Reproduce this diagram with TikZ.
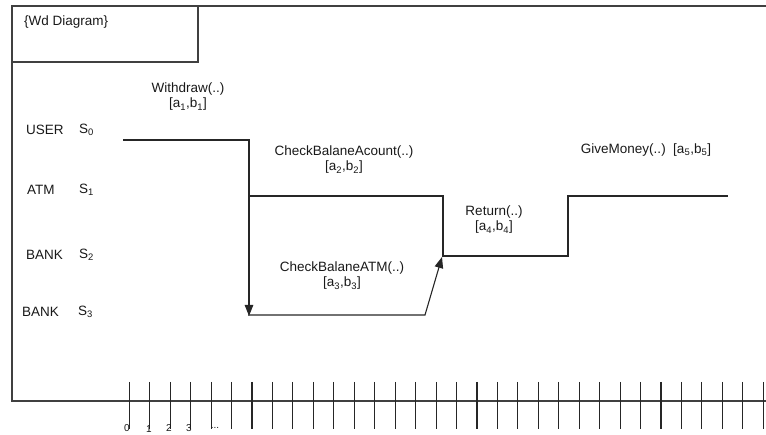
\documentclass[tikz,border=0pt]{standalone}
\usepackage{fontspec}
\setmainfont{Liberation Sans}
\usetikzlibrary{arrows.meta}
\tikzset{
  frame/.style={line width=1.3pt, draw=black!75},
  wire/.style={line width=1.1pt, draw=black!85},
  arr/.style={wire, -{Triangle[length=11pt,width=8.5pt]}},
  lbl/.style={inner sep=0pt, font=\fontsize{13.5}{15}\selectfont, align=center, text=black!90},
  tlbl/.style={inner sep=0pt, font=\fontsize{10}{11}\selectfont, text=black!90},
  tick/.style={line width=1.1pt, draw=black!85}
}
\begin{document}
\begin{tikzpicture}[x=1pt,y=-1pt]
\useasboundingbox (0,0) rectangle (766,435);
% frame
\draw[frame] (766,6) -- (12,6) -- (12,401) -- (766,401);
\draw[frame] (12,62) -- (198,62) -- (198,6);
\node[lbl, anchor=west] (title) at (24,22) {\{Wd Diagram\}};
% state labels
\node[lbl, anchor=west] (user) at (26,130) {USER};
\node[lbl, anchor=west] (s0) at (79,130) {S\textsubscript{0}};
\node[lbl, anchor=west] (atm) at (27,190) {ATM};
\node[lbl, anchor=west] (s1) at (79,190) {S\textsubscript{1}};
\node[lbl, anchor=west] (bank2) at (26,255) {BANK};
\node[lbl, anchor=west] (s2) at (79,255) {S\textsubscript{2}};
\node[lbl, anchor=west] (bank3) at (22,312) {BANK};
\node[lbl, anchor=west] (s3) at (78,312) {S\textsubscript{3}};
% message labels
\node[lbl] (m1) at (188,97) {Withdraw(..)\\ {[a\textsubscript{1},b\textsubscript{1}]}};
\node[lbl] (m2) at (344,160) {CheckBalaneAcount(..)\\ {[a\textsubscript{2},b\textsubscript{2}]}};
\node[lbl] (m3) at (342,276) {CheckBalaneATM(..)\\ {[a\textsubscript{3},b\textsubscript{3}]}};
\node[lbl] (m4) at (494,220) {Return(..)\\ {[a\textsubscript{4},b\textsubscript{4}]}};
\node[lbl] (m5) at (646,150) {GiveMoney(..)\ \ [a\textsubscript{5},b\textsubscript{5}]};
% path coordinates
\coordinate (u0) at (123,140);
\coordinate (u1) at (249,140);
\coordinate (u2) at (249,316);
\coordinate (a0) at (249,196);
\coordinate (a1) at (443,196);
\coordinate (a2) at (443,256);
\coordinate (a3) at (568,256);
\coordinate (a4) at (568,196);
\coordinate (a5) at (728,196);
\coordinate (b0) at (248,315);
\coordinate (b1) at (425,315);
\coordinate (b2) at (442,257);
% wires
\draw[arr] (u0) -- (u1) -- (u2);
\draw[wire] (a0) -- (a1) -- (a2) -- (a3) -- (a4) -- (a5);
\draw[arr] (b0) -- (b1) -- (b2);
% time axis ticks
\foreach \i in {0,...,31} {
  \draw[tick] ({129.3+20.45*\i},382) -- ({129.3+20.45*\i},429);
}
\node[tlbl] (t0) at (127,428) {0};
\node[tlbl] (t1) at (149,429) {1};
\node[tlbl] (t2) at (169,428.5) {2};
\node[tlbl] (t3) at (189,428.5) {3};
\node[tlbl] (tdots) at (215,428) {...};
\end{tikzpicture}
\end{document}
